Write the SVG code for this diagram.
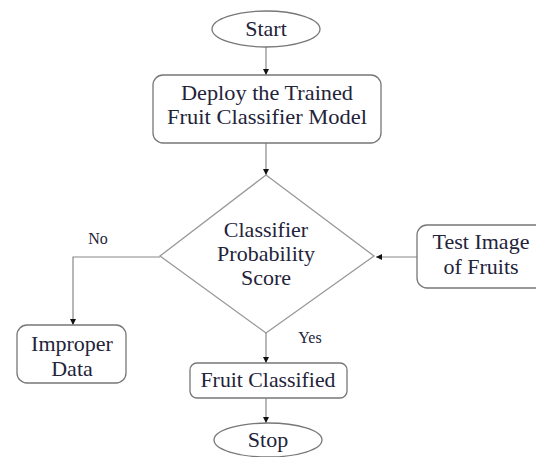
<svg xmlns="http://www.w3.org/2000/svg" width="536" height="457" viewBox="0 0 536 457">
<defs>
<marker id="ah" viewBox="0 0 6 6" refX="6" refY="3" markerWidth="6" markerHeight="6" orient="auto" markerUnits="userSpaceOnUse">
<path d="M0,0 L6,3 L0,6 Z" fill="#111"/>
</marker>
</defs>
<style>
.shape{fill:#fff;stroke:#777;stroke-width:1.3}
.dia{fill:#fff;stroke:#999;stroke-width:1.3}
.conn{fill:none;stroke:#888;stroke-width:1.2;marker-end:url(#ah)}
text{font-family:"Liberation Serif","Times New Roman",serif;fill:#23233a;text-anchor:middle;font-size:22px}
.sm{font-size:21px}
.lbl{font-size:16px}
</style>
<rect width="536" height="457" fill="#fff"/>
<g id="connectors">
<line class="conn" x1="266" y1="47" x2="266" y2="75"/>
<line class="conn" x1="266" y1="143" x2="266" y2="175"/>
<line class="conn" x1="417" y1="257" x2="376" y2="257"/>
<polyline class="conn" points="160,257 73,257 73,325"/>
<line class="conn" x1="266" y1="333" x2="266" y2="363"/>
<line class="conn" x1="266" y1="398" x2="266" y2="423"/>
<text class="lbl" x="98" y="244">No</text>
<text class="lbl" x="310" y="343">Yes</text>
</g>
<g id="start">
<ellipse class="shape" cx="266" cy="29" rx="54" ry="18"/>
<text x="266" y="36">Start</text>
</g>
<g id="deploy">
<rect class="shape" x="153" y="75" width="228" height="68" rx="10"/>
<text class="sm" x="267" y="100" textLength="172" lengthAdjust="spacingAndGlyphs">Deploy the Trained</text>
<text class="sm" x="267" y="124" textLength="200" lengthAdjust="spacingAndGlyphs">Fruit Classifier Model</text>
</g>
<g id="decision">
<polygon class="dia" points="266,175 374,256 266,333 160,256"/>
<text x="266" y="237">Classifier</text>
<text x="266" y="261">Probability</text>
<text x="266" y="285">Score</text>
</g>
<g id="test">
<rect class="shape" x="417" y="225" width="130" height="63" rx="10"/>
<text x="481" y="249">Test Image</text>
<text x="481" y="274">of Fruits</text>
</g>
<g id="improper">
<rect class="shape" x="17" y="325" width="109" height="58" rx="10"/>
<text x="72" y="351">Improper</text>
<text x="72" y="376">Data</text>
</g>
<g id="classified">
<rect class="shape" x="190" y="363" width="157" height="35" rx="7"/>
<text x="268" y="387" textLength="135" lengthAdjust="spacingAndGlyphs">Fruit Classified</text>
</g>
<g id="stop">
<ellipse class="shape" cx="268" cy="440" rx="54" ry="17"/>
<text x="268" y="447">Stop</text>
</g>
</svg>
